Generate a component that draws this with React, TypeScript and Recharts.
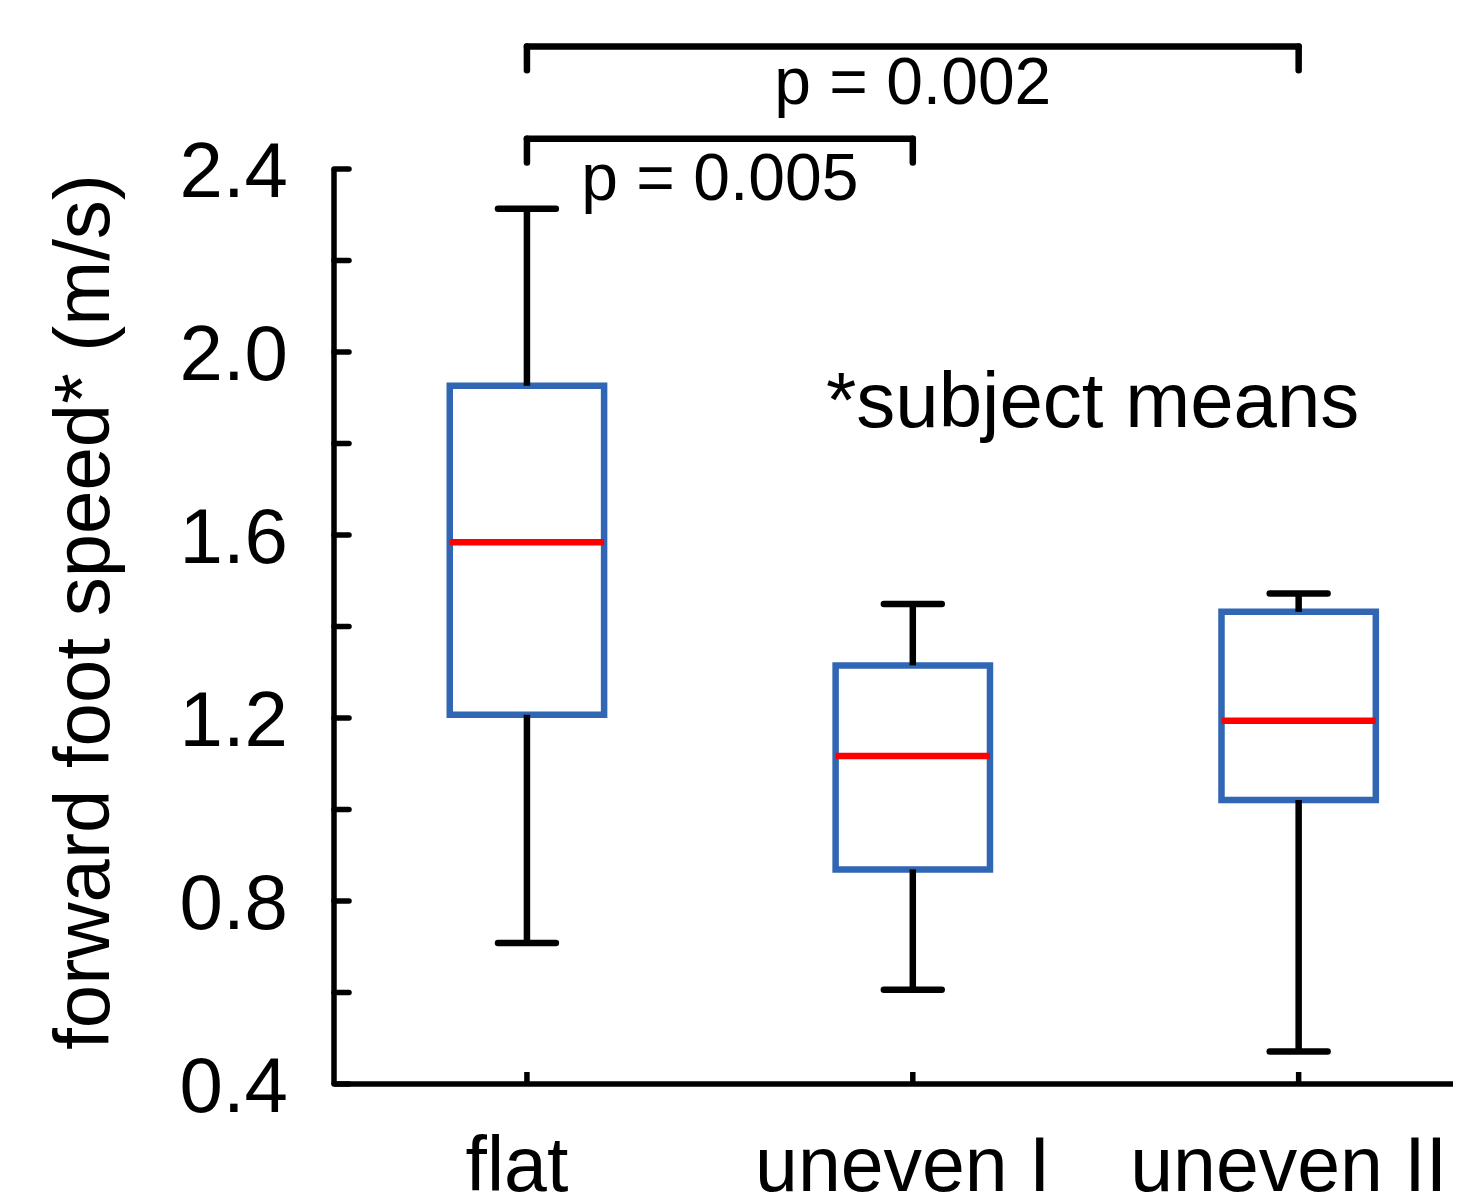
import { ComposedChart, XAxis, YAxis, ReferenceArea, ReferenceLine } from 'recharts';

// box plot summary per terrain (subject means)
const categories = ['flat', 'uneven I', 'uneven II'];
const whiskerLow = [0.708, 0.606, 0.471];
const quartile1 = [1.207, 0.869, 1.021];
const medians = [1.584, 1.117, 1.194];
const quartile3 = [1.926, 1.315, 1.432];
const whiskerHigh = [2.313, 1.449, 1.472];

const yTicks = [0.4, 0.6, 0.8, 1.0, 1.2, 1.4, 1.6, 1.8, 2.0, 2.2, 2.4];
const yTickLabels = ['0.4', '', '0.8', '', '1.2', '', '1.6', '', '2.0', '', '2.4'];

// significance brackets: [from, to] category positions, p values, bracket height
const comparisons = [[1, 3], [1, 2]];
const comparisonLabels = ['p = 0.002', 'p = 0.005'];
const comparisonLevels = [2.668, 2.466];

const FONT = '"Liberation Sans", Arial, Helvetica, sans-serif';
const BLUE = '#3066b3';
const BOX_HALF = 0.2;
const CAP_HALF = 0.075;
const LINE_W = 6.5;
const labelOffsets = [11, 14];

const black = { stroke: '#000', strokeWidth: LINE_W, style: { strokeWidth: LINE_W } };
const roundBlack = { ...black, strokeLinecap: 'round' as const };

const chartData = categories.map((name, i) => ({ x: i + 1, name, median: medians[i] }));

export default function App() {
  const W = 1457;
  const H = 1188;

  return (
    <div style={{ position: 'relative', width: W, height: H }}>
      <ComposedChart
        width={W}
        height={H}
        data={chartData}
        margin={{ top: 161, right: 12, bottom: 12, left: 126 }}
      >
        <XAxis
          type="number"
          dataKey="x"
          domain={[0.5, 3.4]}
          ticks={[1, 2, 3]}
          interval={0}
          allowDataOverflow
          height={100}
          tickSize={-12}
          tickMargin={64}
          tickFormatter={(v: number) => categories[v - 1]}
          axisLine={{ stroke: '#000', strokeWidth: 5.5, style: { strokeWidth: 5.5 } }}
          tickLine={{ stroke: '#000', strokeWidth: 5.5, style: { strokeWidth: 5.5 } }}
          tick={{ fill: '#000', fontSize: 77, fontFamily: FONT, dx: -10 }}
        />
        <YAxis
          type="number"
          domain={[0.4, 2.4]}
          ticks={yTicks}
          interval={0}
          allowDataOverflow
          width={200}
          tickSize={-15}
          tickMargin={61}
          tickFormatter={(v: number) => yTickLabels[yTicks.indexOf(v)] ?? ''}
          axisLine={{ stroke: '#000', strokeWidth: 5.5, style: { strokeWidth: 5.5 } }}
          tickLine={{ stroke: '#000', strokeWidth: 5.5, style: { strokeWidth: 5.5, strokeLinecap: 'round' } }}
          tick={{ fill: '#000', fontSize: 78, fontFamily: FONT }}
        />

        {/* whiskers */}
        {categories.map((c, i) => (
          <ReferenceLine
            key={`wu-${c}`}
            segment={[{ x: i + 1, y: quartile3[i] }, { x: i + 1, y: whiskerHigh[i] }]}
            {...black}
          />
        ))}
        {categories.map((c, i) => (
          <ReferenceLine
            key={`wl-${c}`}
            segment={[{ x: i + 1, y: quartile1[i] }, { x: i + 1, y: whiskerLow[i] }]}
            {...black}
          />
        ))}
        {categories.map((c, i) => (
          <ReferenceLine
            key={`cu-${c}`}
            segment={[{ x: i + 1 - CAP_HALF, y: whiskerHigh[i] }, { x: i + 1 + CAP_HALF, y: whiskerHigh[i] }]}
            {...roundBlack}
          />
        ))}
        {categories.map((c, i) => (
          <ReferenceLine
            key={`cl-${c}`}
            segment={[{ x: i + 1 - CAP_HALF, y: whiskerLow[i] }, { x: i + 1 + CAP_HALF, y: whiskerLow[i] }]}
            {...roundBlack}
          />
        ))}

        {/* boxes */}
        {categories.map((c, i) => (
          <ReferenceArea
            key={`box-${c}`}
            x1={i + 1 - BOX_HALF}
            x2={i + 1 + BOX_HALF}
            y1={quartile1[i]}
            y2={quartile3[i]}
            fill="none"
            fillOpacity={0}
            stroke={BLUE}
            strokeWidth={LINE_W}
            style={{ strokeWidth: LINE_W }}
          />
        ))}

        {/* medians */}
        {categories.map((c, i) => (
          <ReferenceLine
            key={`med-${c}`}
            segment={[{ x: i + 1 - BOX_HALF, y: medians[i] }, { x: i + 1 + BOX_HALF, y: medians[i] }]}
            stroke="#ff0000"
            strokeWidth={LINE_W}
            style={{ strokeWidth: LINE_W }}
          />
        ))}

        {/* significance brackets */}
        {comparisons.map(([a, b], k) => (
          <ReferenceLine
            key={`br-${k}`}
            ifOverflow="visible"
            segment={[{ x: a, y: comparisonLevels[k] }, { x: b, y: comparisonLevels[k] }]}
            {...roundBlack}
            label={{
              value: comparisonLabels[k],
              position: 'bottom',
              offset: labelOffsets[k],
              fontSize: 66,
              fill: '#000',
              fontFamily: FONT,
            }}
          />
        ))}
        {comparisons.map(([a, b], k) =>
          [a, b].map((end) => (
            <ReferenceLine
              key={`brend-${k}-${end}`}
              ifOverflow="visible"
              segment={[{ x: end, y: comparisonLevels[k] }, { x: end, y: comparisonLevels[k] - 0.052 }]}
              {...roundBlack}
            />
          ))
        )}
      </ComposedChart>

      <svg
        width={W}
        height={H}
        style={{ position: 'absolute', left: 0, top: 0, pointerEvents: 'none' }}
      >
        <text
          x={101}
          y={604}
          transform="rotate(-90 101 604)"
          textAnchor="middle"
          fontSize={78}
          fontFamily={FONT}
          fill="#000"
        >
          forward foot speed* (m/s)
        </text>
        <text x={818} y={419} fontSize={78} fontFamily={FONT} fill="#000">
          *subject means
        </text>
      </svg>
    </div>
  );
}
